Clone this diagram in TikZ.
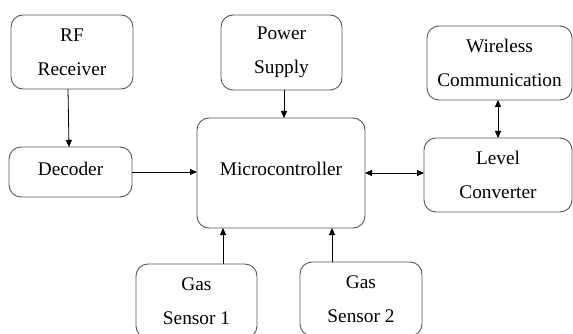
\documentclass[tikz,border=0pt]{standalone}
\usepackage{fontspec}
\setmainfont{Liberation Serif}
\usetikzlibrary{arrows.meta,calc}
\begin{document}
\begin{tikzpicture}[x=1pt,y=-1pt,
  blk/.style={draw=black!65,line width=0.9pt,rounded corners=12pt,inner sep=0pt,outer sep=0pt,
    align=center,font=\fontsize{19.3}{34}\selectfont,text=black},
  conn/.style={draw=black,line width=0.8pt,-{Triangle[length=7pt,width=6pt]}},
  bconn/.style={draw=black,line width=0.8pt,{Triangle[length=7pt,width=6pt]}-{Triangle[length=7pt,width=6pt]}}]
\clip (0,0) rectangle (573,334);
\fill[white] (0,0) rectangle (573,334);
\node[blk,minimum width=122pt,minimum height=74pt] (rf) at (72,52) {RF\\Receiver};
\node[blk,minimum width=123pt,minimum height=50pt] (dec) at (70.5,172) {\raisebox{7pt}{Decoder}};
\node[blk,minimum width=121pt,minimum height=75pt] (pow) at (281.5,52.5) {Power\\Supply};
\node[blk,minimum width=168pt,minimum height=110pt] (mc) at (281,173) {\raisebox{9pt}{Microcontroller}};
\node[blk,minimum width=145pt,minimum height=74pt] (wc) at (499.5,63) {Wireless\\Communication};
\node[blk,minimum width=148pt,minimum height=74pt] (lc) at (498,175) {Level\\Converter};
\node[blk,minimum width=121pt,minimum height=74pt] (g1) at (196.5,301) {Gas\\Sensor 1};
\node[blk,minimum width=122pt,minimum height=74pt] (g2) at (361,299) {Gas\\Sensor 2};
\draw[conn] ($(rf.south)+(-4,0)$) -- ($(dec.north)+(-1.5,0)$);
\draw[conn] (dec.east) -- (dec.east -| mc.west);
\draw[conn] ($(pow.south)+(2.5,0)$) -- ($(pow.south |- mc.north)+(2.5,0)$);
\draw[bconn] (mc.east) -- (mc.east -| lc.west);
\draw[bconn] ($(wc.south)+(-1.5,0)$) -- ($(wc.south |- lc.north)+(-1.5,0)$);
\draw[conn] ($(g1.north)+(26.5,0)$) -- ($(g1.north |- mc.south)+(26.5,0)$);
\draw[conn] ($(g2.north)+(-29,0)$) -- ($(g2.north |- mc.south)+(-29,0)$);
\end{tikzpicture}
\end{document}
